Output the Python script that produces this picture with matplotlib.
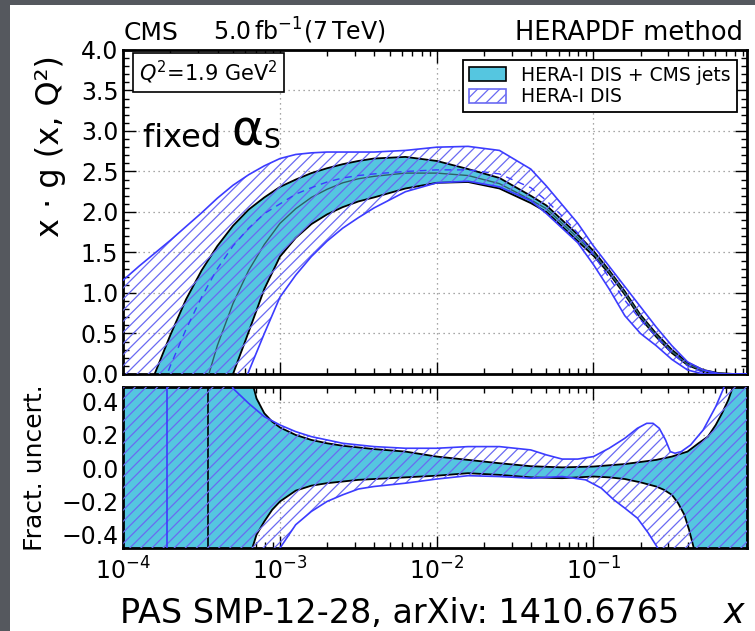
import matplotlib
matplotlib.use('Agg')
import matplotlib.pyplot as plt
import numpy as np
from matplotlib.patches import Patch, Rectangle
from matplotlib.ticker import MultipleLocator, LogLocator, NullFormatter

# ---- data (log10 x, values) ----
grid_lx = [-4.0, -3.9, -3.8, -3.7, -3.6, -3.5, -3.4, -3.3, -3.2, -3.1, -3.0, -2.9,
           -2.8, -2.7, -2.6, -2.5, -2.4, -2.2, -2.0, -1.8, -1.6, -1.4, -1.3, -1.2,
           -1.1, -1.0, -0.9, -0.8, -0.7, -0.6, -0.5, -0.4, -0.3, -0.2, -0.1, 0.0]

# HERA-I DIS + CMS jets: x*g band
jets_up = [-1.0, -0.5, 0.0, 0.48, 0.92, 1.28, 1.58, 1.83, 2.03, 2.18, 2.31, 2.40,
           2.48, 2.54, 2.59, 2.63, 2.66, 2.68, 2.63, 2.53, 2.42, 2.20, 2.08, 1.90,
           1.72, 1.52, 1.28, 1.02, 0.73, 0.50, 0.30, 0.14, 0.05, 0.01, 0.0, 0.0]
jets_mid = [-3.3, -2.8, -2.2, -1.6, -0.95, -0.3, 0.35, 0.87, 1.28, 1.60, 1.86, 2.04,
            2.18, 2.28, 2.36, 2.41, 2.44, 2.48, 2.48, 2.45, 2.35, 2.15, 2.04, 1.86,
            1.68, 1.49, 1.26, 1.00, 0.71, 0.48, 0.28, 0.12, 0.04, 0.008, 0.0, 0.0]
jets_lo = [-3.4, -3.0, -2.6, -2.1, -1.6, -1.1, -0.55, 0.0, 0.52, 1.05, 1.45, 1.68,
           1.85, 1.97, 2.06, 2.13, 2.18, 2.29, 2.36, 2.37, 2.29, 2.11, 2.00, 1.82,
           1.64, 1.46, 1.24, 0.98, 0.69, 0.46, 0.26, 0.11, 0.03, 0.005, 0.0, 0.0]

# HERA-I DIS only: x*g band
hera_up = [1.16, 1.33, 1.49, 1.65, 1.82, 1.99, 2.17, 2.33, 2.46, 2.57, 2.66, 2.71,
           2.73, 2.74, 2.74, 2.74, 2.74, 2.76, 2.80, 2.81, 2.76, 2.53, 2.32, 2.09,
           1.86, 1.58, 1.33, 1.08, 0.83, 0.58, 0.35, 0.15, 0.05, 0.005, 0.0, 0.0]
hera_mid = [-1.4, -0.9, -0.4, 0.1, 0.55, 0.95, 1.30, 1.58, 1.80, 1.98, 2.10, 2.22,
            2.30, 2.37, 2.42, 2.45, 2.47, 2.50, 2.52, 2.52, 2.47, 2.30, 2.14, 1.95,
            1.74, 1.47, 1.19, 0.91, 0.67, 0.46, 0.26, 0.10, 0.02, 0.0, 0.0, 0.0]
hera_lo = [-3.7, -3.3, -2.9, -2.45, -1.95, -1.45, -0.95, -0.45, 0.03, 0.50, 0.95, 1.22,
           1.45, 1.64, 1.80, 1.93, 2.05, 2.25, 2.36, 2.38, 2.31, 2.14, 1.98, 1.80,
           1.62, 1.35, 1.05, 0.72, 0.50, 0.35, 0.18, 0.05, 0.0, 0.0, 0.0, 0.0]

# fractional uncertainties (lower panel)
fj_up_lx = [-4.0, -3.3, -3.2, -3.15, -3.1, -3.05, -3.0, -2.9, -2.8, -2.7, -2.6, -2.5,
            -2.4, -2.2, -2.0, -1.8, -1.6, -1.4, -1.2, -1.0, -0.8, -0.6, -0.5, -0.4,
            -0.33, -0.27, -0.22, -0.18, -0.14, -0.11, 0.0]
fj_up = [5.0, 3.0, 0.6, 0.42, 0.33, 0.28, 0.245, 0.20, 0.17, 0.15, 0.135, 0.125,
         0.115, 0.10, 0.07, 0.05, 0.03, 0.012, 0.005, 0.01, 0.025, 0.05, 0.07, 0.10,
         0.15, 0.19, 0.26, 0.33, 0.41, 0.49, 3.0]
fj_lo_lx = [-4.0, -3.3, -3.2, -3.15, -3.1, -3.05, -3.0, -2.9, -2.8, -2.7, -2.6, -2.5,
            -2.4, -2.2, -2.0, -1.8, -1.6, -1.4, -1.2, -1.0, -0.9, -0.8, -0.7, -0.6,
            -0.55, -0.5, -0.46, -0.42, -0.39, -0.36, -0.3, 0.0]
fj_lo = [-5.0, -2.0, -0.55, -0.40, -0.32, -0.25, -0.20, -0.135, -0.105, -0.09, -0.08, -0.07,
         -0.065, -0.055, -0.045, -0.03, -0.04, -0.055, -0.06, -0.05, -0.055, -0.065, -0.085, -0.11,
         -0.13, -0.16, -0.21, -0.28, -0.37, -0.48, -0.9, -5.0]
fh_up_lx = [-4.0, -3.5, -3.4, -3.3, -3.2, -3.1, -3.0, -2.9, -2.8, -2.6, -2.4, -2.2,
            -2.0, -1.8, -1.6, -1.4, -1.3, -1.2, -1.1, -1.0, -0.9, -0.8, -0.72, -0.66,
            -0.62, -0.58, -0.54, -0.51, -0.48, -0.44, -0.38, -0.3, -0.22, -0.17, -0.1, 0.0]
fh_up = [5.0, 1.2, 0.75, 0.48, 0.39, 0.31, 0.26, 0.22, 0.19, 0.15, 0.13, 0.12,
         0.12, 0.13, 0.13, 0.11, 0.08, 0.055, 0.055, 0.07, 0.12, 0.18, 0.24, 0.27,
         0.27, 0.24, 0.17, 0.10, 0.09, 0.10, 0.14, 0.23, 0.37, 0.48, 0.9, 3.0]
fh_lo_lx = [-4.0, -3.3, -3.1, -3.0, -2.9, -2.8, -2.7, -2.6, -2.5, -2.4, -2.2, -2.0,
            -1.8, -1.6, -1.4, -1.2, -1.05, -0.95, -0.87, -0.8, -0.72, -0.65, -0.59, -0.5, 0.0]
fh_lo = [-5.0, -1.5, -0.65, -0.48, -0.34, -0.26, -0.20, -0.16, -0.125, -0.11, -0.09, -0.065,
         -0.045, -0.05, -0.06, -0.05, -0.07, -0.12, -0.19, -0.24, -0.30, -0.39, -0.48, -0.7, -5.0]

# where the central values cross zero (fractional uncertainty diverges)
hera_pole_lx = -3.72
jets_pole_lx = -3.46

labels = ['HERA-I DIS + CMS jets', 'HERA-I DIS']

# ---- style ----
plt.rcParams['font.family'] = ['DejaVu Sans']
plt.rcParams['mathtext.fontset'] = 'dejavusans'
plt.rcParams['hatch.linewidth'] = 0.9

cyan = '#55c6e0'
blue = '#3c3cff'
hatch_blue = '#6a6af2'

fig = plt.figure(figsize=(7.55, 6.31), dpi=100, facecolor='#55585e')
fig.add_artist(Rectangle((10 / 755, 0), 1, 1 - 5 / 631, transform=fig.transFigure,
                         facecolor='white', edgecolor='none', zorder=0))

ax1 = fig.add_axes([0.1633, 0.4073, 0.8257, 0.5135])
ax2 = fig.add_axes([0.1633, 0.1315, 0.8257, 0.2556])


def lin(a):
    return 10.0 ** np.asarray(a)


def band(ax, xu, yu, xl, yl, kind):
    px = np.concatenate([lin(xu), lin(xl)[::-1]])
    py = np.concatenate([yu, yl[::-1]])
    if kind == 'jets':
        ax.fill(px, py, facecolor=cyan, edgecolor='none', zorder=2)
        ax.plot(lin(xu), yu, color='black', lw=1.3, zorder=3)
        ax.plot(lin(xl), yl, color='black', lw=1.3, zorder=3)
    else:
        ax.fill(px, py, facecolor='none', edgecolor=hatch_blue, hatch='///', lw=0, zorder=4)
        ax.plot(lin(xu), yu, color=blue, lw=1.2, zorder=5)
        ax.plot(lin(xl), yl, color=blue, lw=1.2, zorder=5)


g = np.array(grid_lx)
band(ax1, g, np.array(jets_up), g, np.array(jets_lo), 'jets')
ax1.plot(lin(g), jets_mid, color='#2f5f66', lw=1.0, zorder=3)
band(ax1, g, np.array(hera_up), g, np.array(hera_lo), 'hera')
ax1.plot(lin(g), hera_mid, color=blue, lw=1.0, ls=(0, (5, 4)), zorder=5)

band(ax2, np.array(fj_up_lx), np.array(fj_up), np.array(fj_lo_lx), np.array(fj_lo), 'jets')
ax2.axvline(10 ** jets_pole_lx, color='black', lw=1.2, zorder=3)
band(ax2, np.array(fh_up_lx), np.array(fh_up), np.array(fh_lo_lx), np.array(fh_lo), 'hera')
ax2.axvline(10 ** hera_pole_lx, color=blue, lw=1.2, zorder=5)

for ax in (ax1, ax2):
    ax.set_xscale('log')
    ax.set_xlim(1e-4, 0.95)
    ax.set_axisbelow(True)
    ax.grid(True, which='major', color='#8a8a8a', lw=0.9, ls=(0, (1, 3)))
    ax.tick_params(which='both', direction='in', top=True, right=True, labelsize=17, width=1)
    ax.tick_params(which='major', length=9)
    ax.tick_params(which='minor', length=4.5)
    ax.xaxis.set_minor_locator(LogLocator(base=10, subs=np.arange(2, 10)))
    ax.xaxis.set_minor_formatter(NullFormatter())
    for s in ax.spines.values():
        s.set_linewidth(2.0)

ax1.set_ylim(0, 4)
ax1.yaxis.set_major_locator(MultipleLocator(0.5))
ax1.yaxis.set_minor_locator(MultipleLocator(0.1))
ax1.tick_params(axis='x', labelbottom=False)

ax2.set_ylim(-0.48, 0.49)
ax2.yaxis.set_major_locator(MultipleLocator(0.2))
ax2.yaxis.set_minor_locator(MultipleLocator(0.1))
ax2.tick_params(axis='x', pad=7)

# legend
handles = [Patch(facecolor=cyan, edgecolor='black', lw=1.2),
           Patch(facecolor='white', edgecolor=hatch_blue, hatch='///', lw=1.2)]
leg = ax1.legend(handles, labels, loc='upper right', bbox_to_anchor=(0.984, 0.969),
                 borderaxespad=0, fontsize=13.5, fancybox=False, framealpha=1,
                 edgecolor='black', handlelength=2.0, handleheight=0.75,
                 labelspacing=0.15, borderpad=0.3, handletextpad=0.8)
leg.get_frame().set_linewidth(1.3)
leg.set_zorder(10)

# text inside the top panel
ax1.text(0.026, 0.972, r'$Q^2$=1.9 GeV$^2$', transform=ax1.transAxes, fontsize=15,
         ha='left', va='top',
         bbox=dict(boxstyle='square,pad=0.3', facecolor='white', edgecolor='black', lw=1.2),
         zorder=10)
t1 = ax1.text(0.032, 0.70, 'fixed ', transform=ax1.transAxes, fontsize=23,
              ha='left', va='baseline', zorder=10)
t2 = ax1.annotate('α', xy=(1, 0), xycoords=t1, xytext=(0, -1), textcoords='offset points',
                  fontsize=35, ha='left', va='bottom', annotation_clip=False, zorder=10)
ax1.annotate('S', xy=(1, 0), xycoords=t2, xytext=(0, 1), textcoords='offset points',
             fontsize=19, ha='left', va='bottom', annotation_clip=False, zorder=10)

# titles and axis labels
fig.text(0.1633, 1 - 40 / 631, 'CMS', fontsize=18, va='baseline')
fig.text(213 / 755, 1 - 40 / 631, r'5.0$\,$fb$^{-1}$(7$\,$TeV)', fontsize=17, va='baseline')
fig.text(743 / 755, 1 - 40 / 631, 'HERAPDF method', fontsize=18.5, ha='right', va='baseline')
fig.text(50 / 755, 1 - 55 / 631, 'x · g (x, Q²)', fontsize=23, rotation=90,
         ha='center', va='top')
fig.text(35 / 755, 1 - 468 / 631, 'Fract. uncert.', fontsize=18, rotation=90,
         ha='center', va='center')
fig.text(400 / 755, 1 - 623 / 631, 'PAS SMP-12-28, arXiv: 1410.6765', fontsize=24,
         ha='center', va='baseline')
fig.text(745 / 755, 1 - 623 / 631, 'x', fontsize=25, style='italic', ha='right', va='baseline')

fig.savefig('out.png', dpi=100, facecolor=fig.get_facecolor())
